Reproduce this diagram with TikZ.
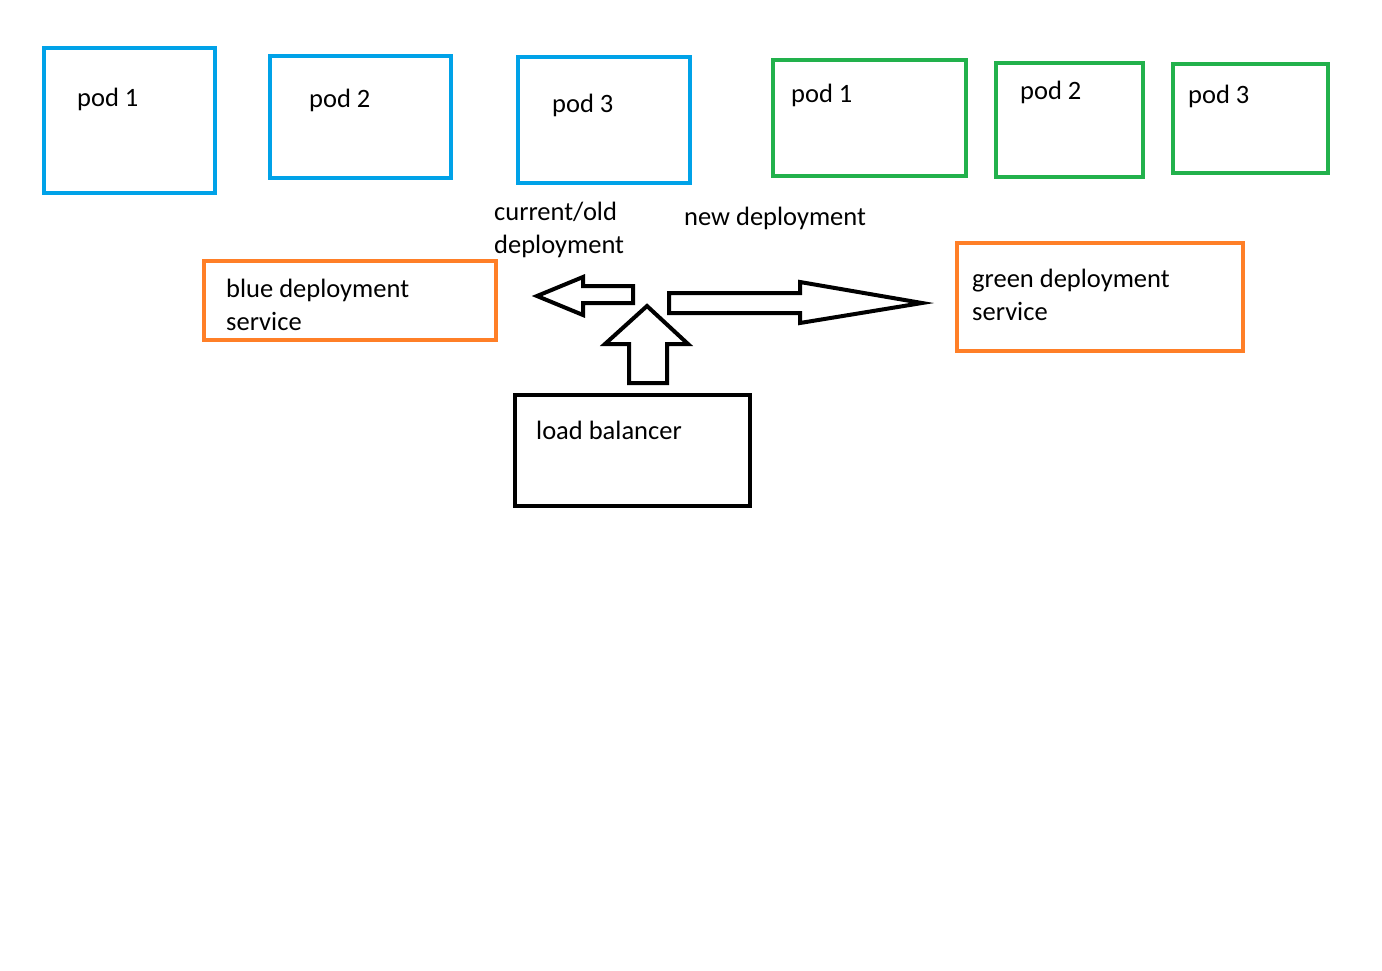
\documentclass[tikz,border=0pt]{standalone}
\usepackage{fontspec}
\setmainfont{Carlito}
\definecolor{podblue}{HTML}{00A2E8}
\definecolor{podgreen}{HTML}{22B14C}
\definecolor{svcorange}{HTML}{FF7F27}
\begin{document}
\begin{tikzpicture}[x=1pt,y=-1pt,
  frame/.style={line width=4pt},
  bluepod/.style={frame,draw=podblue},
  greenpod/.style={frame,draw=podgreen},
  svcbox/.style={frame,draw=svcorange},
  lbbox/.style={line width=4.5pt,draw=black},
  lbl/.style={anchor=base west,inner sep=0pt,font=\fontsize{26.5}{33}\selectfont},
  blockarrow/.style={line width=4pt,draw=black,fill=white,line join=miter}]
\useasboundingbox (0,0) rectangle (1382,970);
\fill[white] (0,0) rectangle (1382,970);

% blue (current) pods
\draw[bluepod] (44,48) rectangle (215,193);
\draw[bluepod] (270,56) rectangle (451,178);
\draw[bluepod] (518,57) rectangle (690,183);
\node[lbl] (bpod1) at (77,106) {pod 1};
\node[lbl] (bpod2) at (309,107) {pod 2};
\node[lbl] (bpod3) at (552,112) {pod 3};

% green (new) pods
\draw[greenpod] (773,60) rectangle (966,176);
\draw[greenpod] (996,63) rectangle (1143,177);
\draw[greenpod] (1173,64) rectangle (1328,173);
\node[lbl] (gpod1) at (791,102) {pod 1};
\node[lbl] (gpod2) at (1020,99) {pod 2};
\node[lbl] (gpod3) at (1188,103) {pod 3};

% captions
\node[lbl] (oldA) at (494,220) {current/old};
\node[lbl] (oldB) at (494,253) {deployment};
\node[lbl] (newdep) at (684,225) {new deployment};

% services
\draw[svcbox] (204,261) rectangle (496,340);
\node[lbl] (blueA) at (226,297) {blue deployment};
\node[lbl] (blueB) at (226,330) {service};
\draw[svcbox] (957,243) rectangle (1243,351);
\node[lbl] (greenA) at (972,287) {green deployment};
\node[lbl] (greenB) at (972,320) {service};

% load balancer
\draw[lbbox] (515,395) rectangle (750,506);
\node[lbl] (lb) at (536,439) {load balancer};

% block arrows
\draw[blockarrow] (537,296) -- (583,277) -- (583,286) -- (633,286) -- (633,303)
  -- (583,303) -- (583,315) -- cycle;
\draw[blockarrow] (647,306) -- (688,344) -- (667,344) -- (667,383) -- (629,383)
  -- (629,344) -- (605,344) -- cycle;
\draw[blockarrow] (922,303) -- (800,323) -- (800,313) -- (669,313) -- (669,293)
  -- (800,293) -- (800,282) -- cycle;
\end{tikzpicture}
\end{document}
